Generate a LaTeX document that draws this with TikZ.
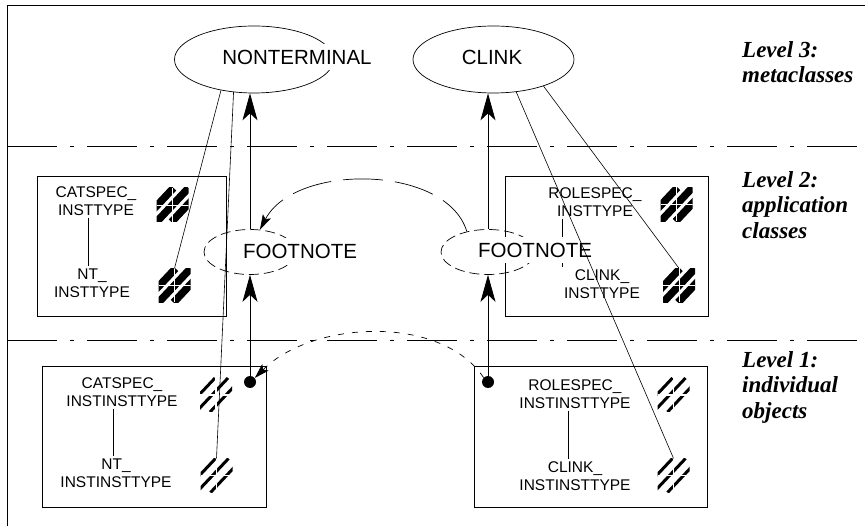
\documentclass[tikz,border=0pt]{standalone}
\usepackage{fontspec}
\setmainfont{Liberation Serif}
\setsansfont{Liberation Sans}
\usepackage{tikz}
\usetikzlibrary{shapes.geometric, arrows.meta, positioning, calc}
\tikzset{
  metanode/.style={ellipse, draw, line width=0.7pt, inner sep=0pt,
    minimum width=159pt, minimum height=67pt},
  footnode/.style={ellipse, draw, line width=0.7pt, inner sep=0pt,
    dash pattern=on 10pt off 5pt, minimum width=92pt, minimum height=45pt},
  bigname/.style={font=\sffamily\fontsize{20.5}{24}\selectfont, fill=white,
    inner xsep=2pt, inner ysep=6pt},
  typename/.style={font=\sffamily\fontsize{15.5}{18}\selectfont, align=center,
    inner sep=2pt},
  classbox/.style={rectangle, draw, line width=0.7pt, inner sep=0pt},
  hatchbold/.style={rectangle, inner sep=0pt, minimum width=32pt, minimum height=34pt,
    path picture={
      \foreach \s in {-15,0,15}
        \draw[line width=7.5pt]
          ([xshift=\s pt]path picture bounding box.south west) --
          ([xshift=\s pt]path picture bounding box.north east);
      \draw[white, line width=0.8pt]
        (path picture bounding box.north) -- (path picture bounding box.south)
        (path picture bounding box.west) -- (path picture bounding box.east);}},
  hatchthin/.style={rectangle, inner sep=0pt, minimum width=32pt, minimum height=34pt,
    path picture={
      \foreach \s in {-17,-4,10}
        \draw[line width=3pt]
          ([xshift=\s pt]path picture bounding box.south west) --
          ([xshift=\s pt]path picture bounding box.north east);
      \draw[white, line width=1.2pt]
        (path picture bounding box.north) -- (path picture bounding box.south)
        (path picture bounding box.west) -- (path picture bounding box.east);}},
  anchordot/.style={circle, fill, inner sep=0pt, minimum size=12pt},
  levellabel/.style={font=\bfseries\itshape\fontsize{23}{25.5}\selectfont,
    align=left, anchor=west, inner sep=0pt},
  bigarrow/.style={-{Stealth[length=27pt, width=15pt, inset=7pt]}, line width=0.8pt},
  instarrow/.style={-{Stealth[length=15pt, width=9pt, inset=3pt]}, line width=0.7pt},
  link/.style={line width=0.6pt},
  levelsep/.style={line width=0.7pt, dash pattern=on 50pt off 13pt on 4pt off 13pt}
}

\begin{document}
\begin{tikzpicture}[x=1pt, y=-1pt]
  \useasboundingbox (0,0) rectangle (865,526);

  % Frame and level separators
  \draw[line width=0.7pt] (7,526) -- (7,5) -- (865,5);
  \draw[levelsep] (7,146) -- (865,146);
  \draw[levelsep] (7,340) -- (865,340);

  % Level labels
  \node[levellabel] (lev3) at (742,62) {Level 3:\\metaclasses};
  \node[levellabel] (lev2) at (742,205) {Level 2:\\application\\classes};
  \node[levellabel] (lev1) at (742,387) {Level 1:\\individual\\objects};

  % Level 2 boxes
  \node[classbox, minimum width=189pt, minimum height=140pt] (app1) at (131.5,246) {};
  \node[classbox, minimum width=203pt, minimum height=140pt] (app2) at (606.5,246) {};
  \node[typename] (cat2) at (96,201) {CATSPEC\_\\INSTTYPE};
  \node[typename] (ntl2) at (92,283) {NT\_\\INSTTYPE};
  \node[typename] (role2) at (595,202) {ROLESPEC\_\\INSTTYPE};
  \node[typename] (clk2) at (602,284) {CLINK\_\\INSTTYPE};
  \node[hatchbold] (hcat2) at (172.5,205) {};
  \node[hatchbold] (hnt2) at (174.5,285.5) {};
  \node[hatchbold] (hrole2) at (676.5,204.5) {};
  \node[hatchbold] (hclk2) at (679,285.5) {};
  \draw[link] ([xshift=-8pt]cat2.south) -- ([xshift=-4pt]ntl2.north);
  \draw[link] ([xshift=-33pt]role2.south) -- ([xshift=-40pt]clk2.north);

  % Level 1 boxes
  \node[classbox, minimum width=224pt, minimum height=141pt] (obj1) at (154,436.5) {};
  \node[classbox, minimum width=233pt, minimum height=141pt] (obj2) at (590.5,436.5) {};
  \node[typename] (cat1) at (122,392) {CATSPEC\_\\INSTINSTTYPE};
  \node[typename] (ntl1) at (116,473) {NT\_\\INSTINSTTYPE};
  \node[typename] (role1) at (575,394) {ROLESPEC\_\\INSTINSTTYPE};
  \node[typename] (clk1) at (575,476) {CLINK\_\\INSTINSTTYPE};
  \node[hatchthin] (hcat1) at (216,395) {};
  \node[hatchthin] (hnt1) at (216.5,475.5) {};
  \node[hatchthin] (hrole1) at (673.5,395) {};
  \node[hatchthin] (hclk1) at (673.5,475.5) {};
  \draw[link] ([xshift=-9pt]cat1.south) -- ([xshift=-3pt]ntl1.north);
  \draw[link] ([xshift=-7pt]role1.south) -- ([xshift=-7pt]clk1.north);

  % Metaclasses and footnotes
  \node[metanode] (nt) at (254,59.5) {};
  \node[metanode, minimum width=161pt] (cl) at (493.5,59.5) {};
  \node[footnode] (footL) at (250,252) {};
  \node[footnode, minimum width=94pt] (footR) at (488,252) {};
  \node[bigname] (ntname) at (297,57) {NONTERMINAL};
  \node[bigname, fill=none] (clname) at (492,57) {CLINK};
  \node[bigname] (footLname) at (300,251) {FOOTNOTE};
  \node[bigname] (footRname) at (535,250) {FOOTNOTE};

  % Instance-of links
  \draw[link] (nt.223) -- (hnt2.north);
  \draw[link] (nt.238) -- (hnt1.north);
  \draw[link] (cl.305) -- (hclk1.north);
  \draw[link] (cl.332) -- (hclk2.north);

  % Arrows
  \node[anchordot] (dotL) at (250,382) {};
  \node[anchordot] (dotR) at (488,382) {};
  \draw[bigarrow] (footL.north) -- (footL.north |- nt.south);
  \draw[bigarrow] (footR.north) -- (footR.north |- cl.south);
  \draw[bigarrow] (dotL.center) -- (dotL.center |- footL.south);
  \draw[bigarrow] (dotR.center) -- (dotR.center |- footR.south);
  \draw[instarrow, dash pattern=on 40pt off 12pt]
    (footR.136) .. controls +(-20,-67) and +(35,-67) .. (footL.66);
  \draw[instarrow, dash pattern=on 6pt off 8pt]
    (dotR.135) .. controls +(-43,-64) and +(57,-57) .. (dotL.40);

\end{tikzpicture}
\end{document}
